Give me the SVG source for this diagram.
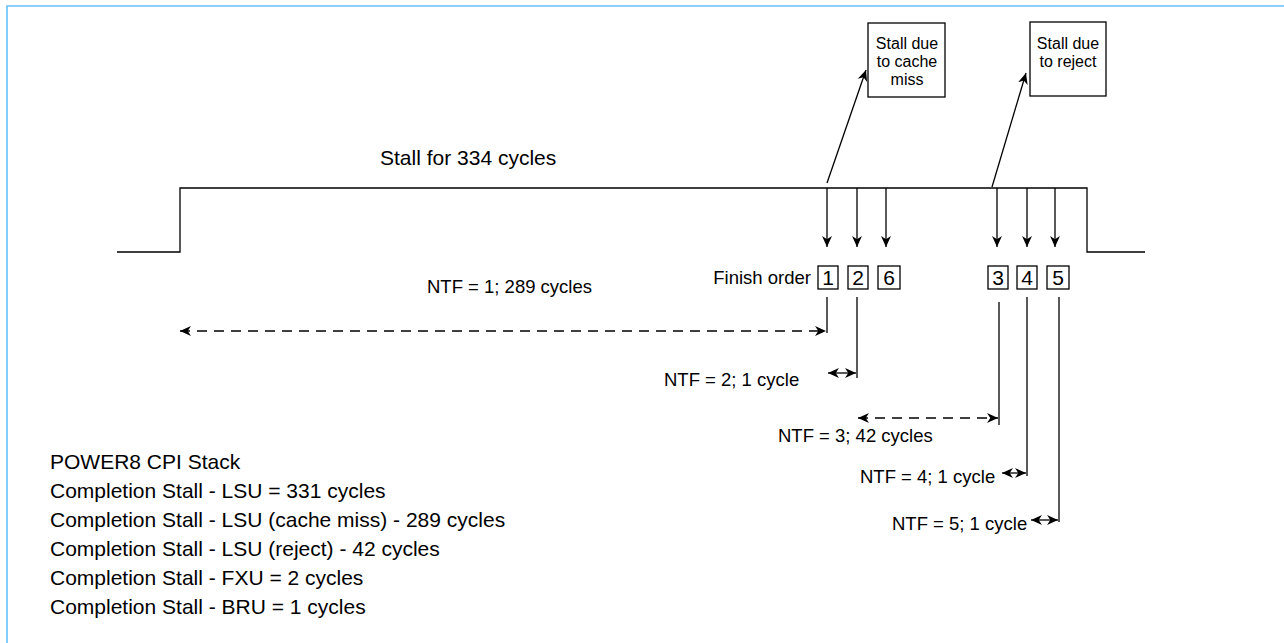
<svg xmlns="http://www.w3.org/2000/svg" width="1284" height="643" viewBox="0 0 1284 643">
<style>
text{font-family:"Liberation Sans",Arial,sans-serif;fill:#000}
.big{font-size:21px}
.mid{font-size:18.5px}
.sm{font-size:16px}
.ln{stroke:#000;stroke-width:1.3;fill:none}
.dash{stroke-dasharray:10 7}
.box{fill:#fff;stroke:#000;stroke-width:1.3}
</style>
<defs>
<marker id="ah" viewBox="0 0 10 10" refX="10" refY="5" markerWidth="11" markerHeight="11" markerUnits="userSpaceOnUse" orient="auto-start-reverse">
<path d="M0,0.5 L10,5 L0,9.5 L3,5 Z" fill="#000"/>
</marker>
</defs>
<rect width="1284" height="643" fill="#fff"/>
<path d="M7,643 V6 H1284" fill="none" stroke="#66bfff" stroke-width="1.6"/>

<g id="waveform">
<path class="ln" d="M117,252 H180 V188 H1087 V252 H1145"/>
<text class="big" x="380" y="165">Stall for 334 cycles</text>
</g>

<g id="callout-cache-miss">
<rect class="box" x="868" y="23" width="77" height="74"/>
<text class="sm" text-anchor="middle" x="907" y="49">Stall due</text>
<text class="sm" text-anchor="middle" x="907" y="67">to cache</text>
<text class="sm" text-anchor="middle" x="907" y="85">miss</text>
</g>
<g id="callout-reject">
<rect class="box" x="1030" y="22" width="76" height="74"/>
<text class="sm" text-anchor="middle" x="1068" y="49">Stall due</text>
<text class="sm" text-anchor="middle" x="1068" y="67">to reject</text>
</g>

<g id="finish-order">
<text class="mid" text-anchor="end" x="811" y="284">Finish order</text>
<g id="f1"><rect class="box" x="818" y="266" width="20" height="23"/><text class="big" text-anchor="middle" x="828" y="285">1</text></g>
<g id="f2"><rect class="box" x="848" y="266" width="20" height="23"/><text class="big" text-anchor="middle" x="858" y="285">2</text></g>
<g id="f6"><rect class="box" x="878" y="266" width="22" height="23"/><text class="big" text-anchor="middle" x="889" y="285">6</text></g>
<g id="f3"><rect class="box" x="988" y="266" width="20" height="23"/><text class="big" text-anchor="middle" x="998" y="285">3</text></g>
<g id="f4"><rect class="box" x="1017" y="266" width="20" height="23"/><text class="big" text-anchor="middle" x="1027" y="285">4</text></g>
<g id="f5"><rect class="box" x="1047" y="266" width="22" height="23"/><text class="big" text-anchor="middle" x="1058" y="285">5</text></g>
</g>

<g id="connectors">
<line class="ln" x1="827" y1="183" x2="866" y2="70" marker-end="url(#ah)"/>
<line class="ln" x1="992" y1="187" x2="1026" y2="73" marker-end="url(#ah)"/>
<line class="ln" x1="827" y1="188" x2="827" y2="247" marker-end="url(#ah)"/>
<line class="ln" x1="857" y1="188" x2="857" y2="247" marker-end="url(#ah)"/>
<line class="ln" x1="886" y1="188" x2="886" y2="247" marker-end="url(#ah)"/>
<line class="ln" x1="997" y1="188" x2="997" y2="247" marker-end="url(#ah)"/>
<line class="ln" x1="1027" y1="188" x2="1027" y2="247" marker-end="url(#ah)"/>
<line class="ln" x1="1055" y1="188" x2="1055" y2="247" marker-end="url(#ah)"/>

<line class="ln" x1="827" y1="297" x2="827" y2="333"/>
<line class="ln" x1="857" y1="297" x2="857" y2="378"/>
<line class="ln" x1="999" y1="302" x2="999" y2="425"/>
<line class="ln" x1="1027" y1="297" x2="1027" y2="476"/>
<line class="ln" x1="1059" y1="297" x2="1059" y2="522"/>

<line class="ln dash" x1="180" y1="331" x2="826" y2="331" marker-start="url(#ah)" marker-end="url(#ah)"/>
<line class="ln" x1="828" y1="373" x2="856" y2="373" marker-start="url(#ah)" marker-end="url(#ah)"/>
<line class="ln dash" x1="858" y1="418" x2="998" y2="418" marker-start="url(#ah)" marker-end="url(#ah)"/>
<line class="ln" x1="1002" y1="473" x2="1026" y2="473" marker-start="url(#ah)" marker-end="url(#ah)"/>
<line class="ln" x1="1031" y1="520" x2="1058" y2="520" marker-start="url(#ah)" marker-end="url(#ah)"/>
</g>

<g id="ntf-labels">
<text class="mid" x="427" y="293">NTF = 1; 289 cycles</text>
<text class="mid" x="664" y="386">NTF = 2; 1 cycle</text>
<text class="mid" x="778" y="442">NTF = 3; 42 cycles</text>
<text class="mid" x="860" y="483">NTF = 4; 1 cycle</text>
<text class="mid" x="892" y="530">NTF = 5; 1 cycle</text>
</g>

<g id="cpi-stack">
<text class="big" x="50" y="469">POWER8 CPI Stack</text>
<text class="big" x="50" y="498">Completion Stall - LSU = 331 cycles</text>
<text class="big" x="50" y="527">Completion Stall - LSU (cache miss) - 289 cycles</text>
<text class="big" x="50" y="556">Completion Stall - LSU (reject) - 42 cycles</text>
<text class="big" x="50" y="585">Completion Stall - FXU = 2 cycles</text>
<text class="big" x="50" y="614">Completion Stall - BRU = 1 cycles</text>
</g>
</svg>
